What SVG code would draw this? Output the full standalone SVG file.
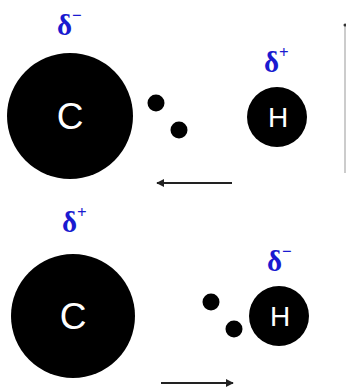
<svg xmlns="http://www.w3.org/2000/svg" width="346" height="388" viewBox="0 0 346 388">
<style>
.atom{fill:#000}
.lbl{fill:#fff;font-family:"Liberation Sans",Arial,sans-serif;text-anchor:middle}
.d{fill:#1a1ad0;font-family:"Liberation Serif","Times New Roman",serif;font-size:29px;font-weight:bold}
.s{font-size:17px}
.arr{stroke:#222;stroke-width:2;fill:none;marker-end:url(#ah)}
</style>
<defs>
<marker id="ah" viewBox="0 0 10 10" refX="9" refY="5" markerWidth="4" markerHeight="4" orient="auto">
<path d="M0,0 L10,5 L0,10 z" fill="#222"/>
</marker>
</defs>
<rect width="346" height="388" fill="#fff"/>
<g id="top-C">
<circle class="atom" cx="70" cy="116" r="63"/>
<text class="lbl" x="70" y="129" font-size="37">C</text>
</g>
<g id="top-dm">
<text class="d" x="57" y="35">δ<tspan class="s" dy="-14">−</tspan></text>
</g>
<g id="top-e1"><circle class="atom" cx="156" cy="103" r="8.5"/></g>
<g id="top-e2"><circle class="atom" cx="179" cy="130" r="8.5"/></g>
<g id="top-H">
<circle class="atom" cx="277" cy="117" r="30"/>
<text class="lbl" x="278" y="127" font-size="28">H</text>
</g>
<g id="top-dp">
<text class="d" x="264" y="72">δ<tspan class="s" dy="-14">+</tspan></text>
</g>
<g id="bot-C">
<circle class="atom" cx="73" cy="316" r="62"/>
<text class="lbl" x="73" y="329" font-size="37">C</text>
</g>
<g id="bot-dp">
<text class="d" x="62" y="232">δ<tspan class="s" dy="-14">+</tspan></text>
</g>
<g id="bot-dm">
<text class="d" x="267" y="271">δ<tspan class="s" dy="-14">−</tspan></text>
</g>
<g id="bot-e1"><circle class="atom" cx="211" cy="302" r="8.5"/></g>
<g id="bot-e2"><circle class="atom" cx="234" cy="329" r="8.5"/></g>
<g id="bot-H">
<circle class="atom" cx="279" cy="316" r="30"/>
<text class="lbl" x="280" y="326" font-size="28">H</text>
</g>
<g id="connectors">
<line class="arr" x1="232" y1="183" x2="157" y2="183"/>
<line class="arr" x1="161" y1="383" x2="233" y2="383"/>
<line x1="345" y1="173" x2="345" y2="26" stroke="#999" stroke-width="1"/>
<circle cx="345" cy="25" r="1.5" fill="#333"/>
</g>
</svg>
